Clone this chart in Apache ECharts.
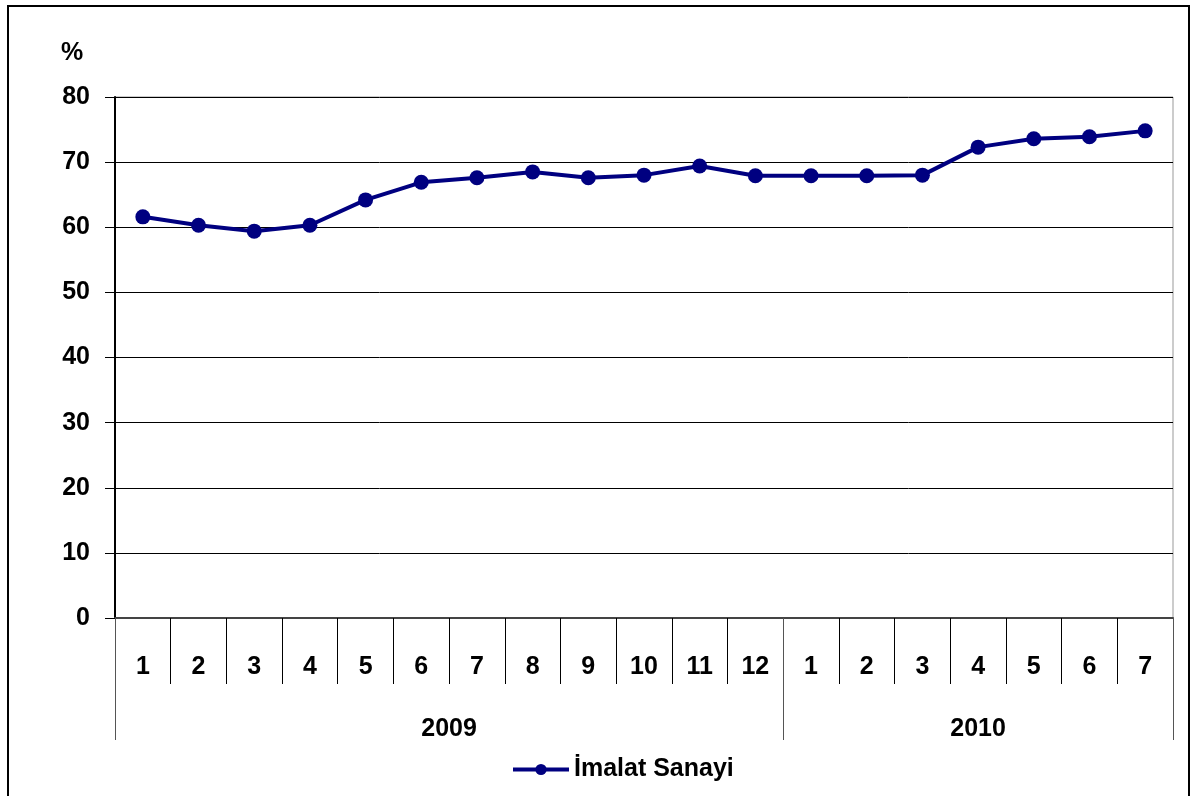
<!DOCTYPE html>
<html>
<head>
<meta charset="utf-8">
<script src="https://cdn.jsdelivr.net/npm/echarts@6/dist/echarts.min.js"></script>
<style>
  html, body { margin: 0; padding: 0; background: #fff; }
  #chart { width: 1192px; height: 796px; }
</style>
</head>
<body>
<div id="chart"></div>
<script>
// ay etiketleri (2009: 1-12, 2010: 1-7)
var months = ['1', '2', '3', '4', '5', '6', '7', '8', '9', '10', '11', '12', '1', '2', '3', '4', '5', '6', '7'];
var values = [61.6, 60.3, 59.4, 60.3, 64.2, 66.9, 67.6, 68.5, 67.6, 68.0, 69.4, 67.9, 67.9, 67.9, 68.0, 72.3, 73.6, 73.9, 74.8];
var years = ['2009', '2010'];
var yearLength = [12, 7];
var seriesName = 'İmalat Sanayi';

// yil sinirlari ve ortalari
var yearBounds = [0], yearMids = [], acc = 0;
yearLength.forEach(function (n) {
  yearMids.push(acc + n / 2);
  acc += n;
  yearBounds.push(acc);
});

var font = 'Liberation Sans, Arial, sans-serif';
var chart = echarts.init(document.getElementById('chart'));
chart.setOption({
  animation: false,
  backgroundColor: '#fff',
  textStyle: {fontFamily: font},
  graphic: [{
    type: 'rect',
    shape: {x: 8, y: 6, width: 1181, height: 800},
    style: {fill: 'none', stroke: '#000', lineWidth: 2}
  }],
  title: {
    text: '%',
    left: 56,
    top: 36,
    textStyle: {fontSize: 25, fontWeight: 'bold', color: '#000', fontFamily: font}
  },
  legend: {
    data: [seriesName],
    left: 506,
    top: 752,
    itemWidth: 56,
    itemHeight: 14,
    lineStyle: {width: 4},
    textStyle: {fontSize: 25, fontWeight: 'bold', color: '#000', fontFamily: font}
  },
  grid: {
    left: 115, right: 19, top: 97, bottom: 178,
    show: true, borderColor: '#999', borderWidth: 1
  },
  xAxis: [{
    type: 'category',
    data: months,
    boundaryGap: true,
    axisLine: {lineStyle: {color: '#444', width: 2}},
    axisTick: {show: true, interval: 0, length: 66, lineStyle: {color: '#000', width: 1}},
    axisLabel: {
      margin: 37, fontSize: 25, fontWeight: 'bold', color: '#000', fontFamily: font,
      interval: 0
    }
  }, {
    type: 'value',
    min: 0,
    max: acc,
    position: 'bottom',
    axisLine: {show: false},
    splitLine: {show: false},
    axisTick: {show: true, customValues: yearBounds, length: 122, lineStyle: {color: '#555', width: 1}},
    axisLabel: {
      customValues: yearMids,
      margin: 99, fontSize: 25, fontWeight: 'bold', color: '#000', fontFamily: font,
      formatter: function (v) {
        var i = yearMids.indexOf(v);
        return i >= 0 ? years[i] : '';
      }
    }
  }],
  yAxis: {
    type: 'value',
    min: 0,
    max: 80,
    interval: 10,
    axisLine: {show: true, lineStyle: {color: '#000', width: 2}},
    axisTick: {show: true, length: 10, lineStyle: {color: '#000'}},
    splitLine: {lineStyle: {color: '#000', width: 1}},
    axisLabel: {margin: 25, fontSize: 25, fontWeight: 'bold', color: '#000', fontFamily: font}
  },
  series: [{
    name: seriesName,
    type: 'line',
    xAxisIndex: 0,
    data: values,
    symbol: 'circle',
    symbolSize: 15,
    lineStyle: {color: '#000080', width: 4},
    itemStyle: {color: '#000080'}
  }]
});
</script>
</body>
</html>
